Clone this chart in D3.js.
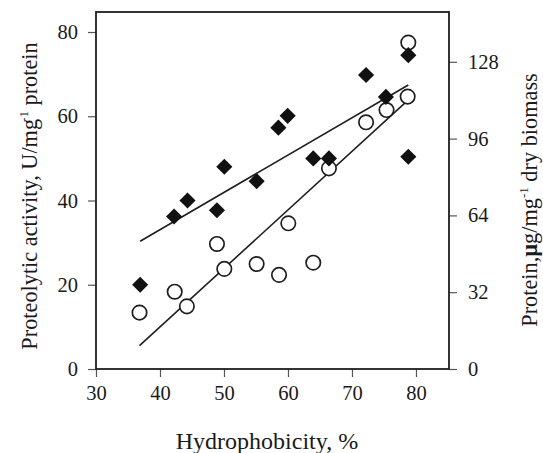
<!DOCTYPE html>
<html>
<head>
<meta charset="utf-8">
<script src="https://cdn.jsdelivr.net/npm/d3@7/dist/d3.min.js"></script>
<style>
  html, body { margin: 0; padding: 0; background: #fff; }
  svg { display: block; }
  text { font-family: "Liberation Serif", "Times New Roman", serif; fill: #1a1a1a; }
</style>
</head>
<body>
<svg id="chart" width="543" height="453"></svg>
<script>
// Hydrophobicity (%) of each isolate
const hydrophobicity = [36.9, 42.2, 44.3, 48.9, 50.05, 55.1, 58.5, 59.95, 63.95, 66.4, 72.2, 75.3, 78.8, 78.8];
// Proteolytic activity, U/mg protein (filled diamonds, left axis)
const proteolytic = [20, 36.2, 40, 37.7, 48, 44.6, 57.3, 60.1, 50, 50, 69.8, 64.6, 74.5, 50.4];

// Hydrophobicity (%) for the protein series
const hydroProtein = [36.8, 42.3, 44.2, 48.9, 50.05, 55.1, 58.6, 60.05, 63.95, 66.4, 72.2, 75.4, 78.7, 78.8];
// Protein, µg/mg dry biomass (open circles, right axis)
const protein = [23.5, 32.2, 26.1, 52.1, 41.7, 43.75, 39.2, 60.7, 44.3, 83.6, 102.8, 107.9, 113.5, 136];

const xTicks = [30, 40, 50, 60, 70, 80];
const leftTicks = [0, 20, 40, 60, 80];
const rightTicks = [0, 32, 64, 96, 128];

const margin = { top: 12, left: 96 };
const W = 353, H = 357;

const svg = d3.select("#chart");
const g = svg.append("g").attr("transform", `translate(${margin.left},${margin.top})`);

const x = d3.scaleLinear().domain([30, 85.16]).range([0, W]);
const yL = d3.scaleLinear().domain([0, 84.75]).range([H, 0]);
const yR = d3.scaleLinear().domain([0, 148.75]).range([H, 0]);

// least-squares line over the data's x range
function fit(xs, ys) {
  const mx = d3.mean(xs), my = d3.mean(ys);
  let sxy = 0, sxx = 0;
  xs.forEach((v, i) => { sxy += (v - mx) * (ys[i] - my); sxx += (v - mx) * (v - mx); });
  const b = sxy / sxx, a = my - b * mx;
  const [x0, x1] = d3.extent(xs);
  return [[x0, a + b * x0], [x1, a + b * x1]];
}

const ink = "#1e1e1e";

// axes
const fontTick = 20.5;
const xAxis = g.append("g").attr("transform", `translate(0,${H})`)
  .call(d3.axisBottom(x).tickValues(xTicks).tickSize(8).tickPadding(8).tickFormat(d3.format("d")));
const lAxis = g.append("g")
  .call(d3.axisLeft(yL).tickValues(leftTicks).tickSize(8).tickPadding(10).tickFormat(d3.format("d")));
const rAxis = g.append("g").attr("transform", `translate(${W},0)`)
  .call(d3.axisRight(yR).tickValues(rightTicks).tickSize(8).tickPadding(11).tickFormat(d3.format("d")));

[xAxis, lAxis, rAxis].forEach(a => {
  a.select(".domain").remove();
  a.selectAll(".tick line").attr("stroke", "#555").attr("stroke-width", 1.2);
  a.selectAll(".tick text").style("font-family", "'Liberation Serif', serif")
    .style("font-size", fontTick + "px").attr("fill", "#1a1a1a");
});

// frame
g.append("rect").attr("x", 0).attr("y", 0).attr("width", W).attr("height", H)
  .attr("fill", "none").attr("stroke", ink).attr("stroke-width", 1.8);

// regression lines
const lineL = d3.line().x(d => x(d[0])).y(d => yL(d[1]));
const lineR = d3.line().x(d => x(d[0])).y(d => yR(d[1]));
g.append("path").attr("d", lineL(fit(hydrophobicity, proteolytic)))
  .attr("fill", "none").attr("stroke", ink).attr("stroke-width", 1.6);
g.append("path").attr("d", lineR(fit(hydroProtein, protein)))
  .attr("fill", "none").attr("stroke", ink).attr("stroke-width", 1.6);

// open circles
g.selectAll("circle.prot").data(protein).join("circle").attr("class", "prot")
  .attr("cx", (d, i) => x(hydroProtein[i])).attr("cy", d => yR(d))
  .attr("r", 7.2).attr("fill", "#fff").attr("stroke", ink).attr("stroke-width", 1.7);

// filled diamonds
const diamond = d3.symbol().type(d3.symbolSquare).size(130);
g.selectAll("path.act").data(proteolytic).join("path").attr("class", "act")
  .attr("d", diamond)
  .attr("transform", (d, i) => `translate(${x(hydrophobicity[i])},${yL(d)}) rotate(45)`)
  .attr("fill", "#111");

// axis titles
svg.append("text").attr("x", 267).attr("y", 449)
  .attr("text-anchor", "middle").style("font-size", "24px")
  .text("Hydrophobicity, %");

const lt = svg.append("text")
  .attr("transform", `translate(37,196) rotate(-90)`)
  .attr("text-anchor", "middle").style("font-size", "22.3px");
lt.append("tspan").text("Proteolytic activity, U/mg");
lt.append("tspan").attr("dy", -9).attr("dx", -3).style("font-size", "13px").text("-1");
lt.append("tspan").attr("dy", 9).text(" protein");

const rt = svg.append("text")
  .attr("transform", `translate(537,200) rotate(-90)`)
  .attr("text-anchor", "middle").style("font-size", "22.3px");
rt.append("tspan").text("Protein,");
rt.append("tspan").style("font-weight", "bold").text("µ");
rt.append("tspan").text("g/mg");
rt.append("tspan").attr("dy", -9).style("font-size", "13px").text("-1");
rt.append("tspan").attr("dy", 9).text(" dry biomass");
</script>
</body>
</html>
